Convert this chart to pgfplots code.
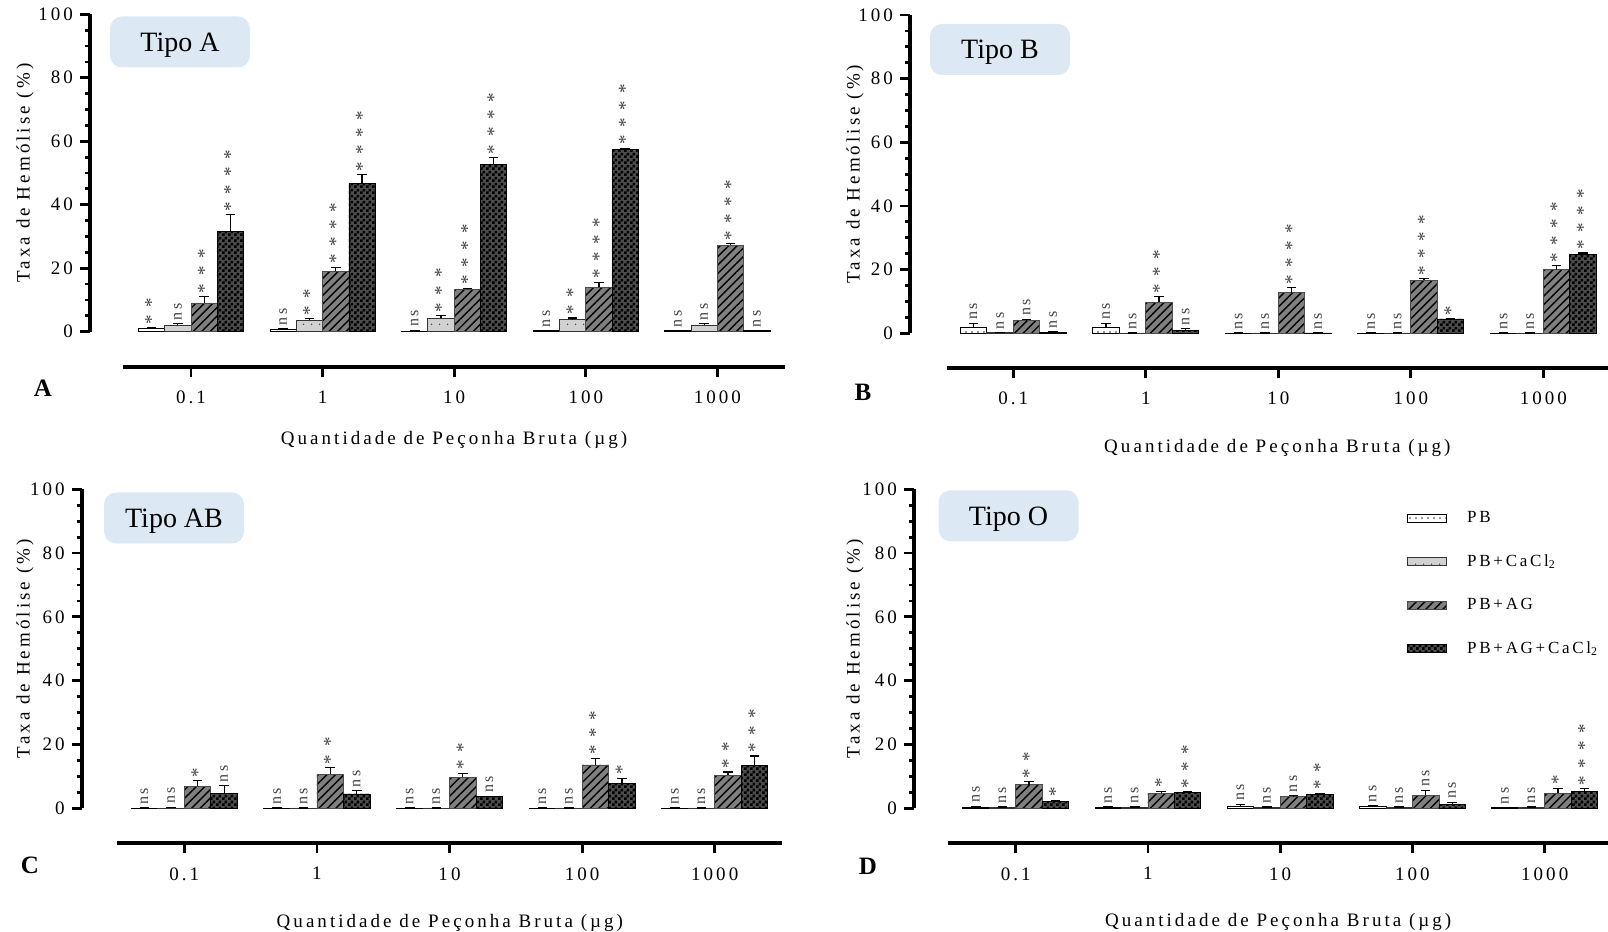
\documentclass[border=0pt]{standalone}
\usepackage{fontspec}
\usepackage{pgfplots}
\pgfplotsset{compat=1.18}
\usepackage{pgfplotstable}
\usetikzlibrary{patterns,patterns.meta}
\setmainfont{Liberation Serif}
\newfontfamily\ps[LetterSpace=16]{Liberation Serif}
\newfontfamily\pa[LetterSpace=40]{Liberation Serif}
\newcommand\pfont{\ps\fontsize{9.5}{11}\selectfont}
\newcommand\sfont{\ps\fontsize{8}{9}\selectfont}
\newcommand\afont{\pa\fontsize{9.5}{11}\selectfont}
\newcommand\lfont{\ps\fontsize{8.5}{10}\selectfont}
\definecolor{tipo}{RGB}{220,232,244}
\def\nsstr{ns}
\newcommand\siglab{\edef\sgtmp{\pgfplotspointmeta}%
  \ifx\sgtmp\nsstr{\sfont ns}\else{\afont\pgfplotspointmeta}\fi}

\pgfdeclarepatternformonly{chk}{\pgfpointorigin}{\pgfqpoint{3pt}{3pt}}{\pgfqpoint{3pt}{3pt}}{%
  \pgfpathrectangle{\pgfpointorigin}{\pgfqpoint{1.5pt}{1.5pt}}%
  \pgfpathrectangle{\pgfqpoint{1.5pt}{1.5pt}}{\pgfqpoint{1.5pt}{1.5pt}}%
  \pgfusepath{fill}}

% g = dose group (0.1,1,10,100,1000 ug), value, error (SEM, up), significance
\pgfplotstableread[col sep=comma]{
g,pb,epb,lpb,ca,eca,lca,ag,eag,lag,agc,eagc,lagc
0,1.0,0.3,**,2.0,0.5,ns,9.0,2.1,***,31.6,5.3,****
1,0.6,0.3,ns,3.6,0.5,**,19.0,1.3,****,46.7,2.7,****
2,0.2,0.3,ns,4.2,0.9,***,13.3,0.4,****,52.6,2.3,****
3,0.4,0.0,ns,3.8,0.5,**,14.0,1.6,****,57.5,0.3,****
4,0.4,0.0,ns,2.0,0.6,ns,27.3,0.4,****,0.4,0.0,ns
}\tabA
\pgfplotstableread[col sep=comma]{
g,pb,epb,lpb,ca,eca,lca,ag,eag,lag,agc,eagc,lagc
0,1.7,1.5,ns,0.2,0.0,ns,3.9,0.5,ns,0.3,0.2,ns
1,1.7,1.5,ns,0.1,0.0,ns,9.7,1.8,***,0.8,0.7,ns
2,0.1,0.0,ns,0.1,0.0,ns,12.8,1.5,****,0.1,0.0,ns
3,0.1,0.0,ns,0.1,0.0,ns,16.6,0.5,****,4.5,0.1,*
4,0.1,0.0,ns,0.1,0.0,ns,20.0,1.2,****,24.7,0.5,****
}\tabB
\pgfplotstableread[col sep=comma]{
g,pb,epb,lpb,ca,eca,lca,ag,eag,lag,agc,eagc,lagc
0,0.1,0.0,ns,0.1,0.2,ns,6.9,1.8,*,4.7,2.4,ns
1,0.1,0.0,ns,0.1,0.0,ns,10.7,2.1,**,4.5,1.1,ns
2,0.1,0.0,ns,0.1,0.0,ns,9.7,1.3,**,3.6,0.2,ns
3,0.1,0.0,ns,0.1,0.0,ns,13.6,2.1,***,7.9,1.5,*
4,0.1,0.0,ns,0.1,0.0,ns,10.3,1.1,**,13.5,2.9,***
}\tabC
\pgfplotstableread[col sep=comma]{
g,pb,epb,lpb,ca,eca,lca,ag,eag,lag,agc,eagc,lagc
0,0.4,0.2,ns,0.4,0.0,ns,7.4,1.0,**,2.1,0.4,*
1,0.4,0.0,ns,0.4,0.0,ns,4.7,0.6,*,5.0,0.2,***
2,0.6,0.7,ns,0.4,0.0,ns,3.8,0.1,ns,4.2,0.5,**
3,0.5,0.4,ns,0.4,0.0,ns,4.1,1.6,ns,1.3,0.6,ns
4,0.2,0.0,ns,0.4,0.0,ns,4.7,1.6,*,5.4,0.8,****
}\tabD

\pgfplotsset{
  arealeg/.style={legend image code/.code={\draw[##1,line width=0.4pt] (0pt,-2pt) rectangle (19.5pt,2pt);}},
  pbbar/.style={draw=black, line width=0.4pt, fill=white, arealeg,
    postaction={pattern={Dots[distance=3pt,radius=0.45pt]}, pattern color=black!80}},
  cabar/.style={draw=black!80, line width=0.4pt, fill=black!18, arealeg,
    postaction={pattern={Dots[distance=4pt,radius=0.45pt]}, pattern color=black!70}},
  agbar/.style={draw=black!70, line width=0.4pt, fill=black!50, arealeg,
    postaction={pattern={Lines[angle=45,distance=3pt,line width=0.7pt]}, pattern color=black}},
  agcbar/.style={draw=black, line width=0.4pt, fill=black!70, arealeg,
    postaction={pattern=chk, pattern color=black}},
  sig/.style={visualization depends on={\thisrow{#1}\as\sgerr},
    nodes near coords={\siglab},
    point meta=explicit symbolic,
    every node near coord/.append style={shift={(axis direction cs:0,\sgerr)},
      rotate=90, anchor=west, font=\sfont, inner sep=1.5pt, text=black!75}},
  mainax/.style={scale only axis, anchor=south west, ybar=0pt, bar width=0.2,
    ymin=0, ymax=100, axis y line*=left, axis x line=none, clip=false,
    ytick={0,20,...,100}, yticklabels={0,20,40,60,80,100}, minor y tick num=3,
    tick align=outside, major tick length=5pt, minor tick length=2.5pt,
    every tick/.append style={black, line width=1.4pt},
    y axis line style={line width=2pt},
    yticklabel style={font=\pfont},
    ylabel={Taxa de Hemólise (\%)}, ylabel style={font=\pfont, anchor=center},
    error bars/error bar style={line width=0.6pt, black},
    error bars/error mark options={rotate=90, mark size=2.4pt, line width=0.6pt, black}},
  xax/.style={scale only axis, anchor=south west, height=5pt, ymin=0, ymax=1,
    axis x line*=bottom, axis y line=none,
    xtick={0,1,2,3,4}, xticklabels={0.1,1,10,100,1000},
    tick align=outside, major tick length=5pt,
    every tick/.append style={black, line width=1.4pt},
    x axis line style={line width=2pt},
    xticklabel style={font=\pfont, yshift=-3.5pt},
    xlabel={Quantidade de Peçonha Bruta (µg)}, xlabel style={font=\pfont, anchor=center}},
}

\newcommand\bars[1]{%
  \addplot[pbbar, sig=epb, error bars/.cd, y dir=plus, y explicit] table[x=g,y=pb,y error=epb,meta=lpb]{#1};
  \addplot[cabar, sig=eca, error bars/.cd, y dir=plus, y explicit] table[x=g,y=ca,y error=eca,meta=lca]{#1};
  \addplot[agbar, sig=eag, error bars/.cd, y dir=plus, y explicit] table[x=g,y=ag,y error=eag,meta=lag]{#1};
  \addplot[agcbar, sig=eagc, error bars/.cd, y dir=plus, y explicit] table[x=g,y=agc,y error=eagc,meta=lagc]{#1};
}

\begin{document}
\begin{tikzpicture}
\useasboundingbox (0,0) rectangle (804pt,466pt);

% ---- A
\begin{axis}[mainax, at={(45pt,300.15pt)}, width=347.5pt, height=158.7pt,
  xmin=-0.7675, xmax=4.5137,
  ylabel style={at={(axis description cs:0,0.5)}, yshift=32.5pt}]
\bars{\tabA}
\end{axis}
\begin{axis}[xax, at={(61.5pt,282.65pt)}, width=331pt, xmin=-0.5167, xmax=4.5137,
  xlabel style={at={(axis description cs:0.5,0)}, yshift=-36.65pt}]
\end{axis}

% ---- B
\begin{axis}[mainax, at={(455pt,299.35pt)}, width=349pt, height=159.15pt,
  xmin=-0.7796, xmax=4.488,
  ylabel style={at={(axis description cs:0,0.5)}, yshift=27.5pt}]
\bars{\tabB}
\end{axis}
\begin{axis}[xax, at={(473.35pt,281.85pt)}, width=330.65pt, xmin=-0.5026, xmax=4.488,
  xlabel style={at={(axis description cs:0.5,0)}, yshift=-40pt}]
\end{axis}

% ---- C
\begin{axis}[mainax, at={(40.85pt,61.85pt)}, width=350.35pt, height=159.5pt,
  xmin=-0.7738, xmax=4.5106,
  ylabel style={at={(axis description cs:0,0.5)}, yshift=28.35pt}]
\bars{\tabC}
\end{axis}
\begin{axis}[xax, at={(58.65pt,44.35pt)}, width=332.55pt, xmin=-0.5053, xmax=4.5106,
  xlabel style={at={(axis description cs:0.5,0)}, yshift=-39.85pt}]
\end{axis}

% ---- D
\begin{axis}[mainax, at={(457pt,61.85pt)}, width=347pt, height=159.5pt,
  xmin=-0.769, xmax=4.4787,
  ylabel style={at={(axis description cs:0,0.5)}, yshift=29.5pt},
  legend style={at={(0.7104,0.945)}, anchor=north west, draw=none, fill=none,
    font=\lfont, row sep=10.5pt, inner sep=0pt,
    /tikz/every odd column/.append style={column sep=8pt}},
  legend cell align=left]
\bars{\tabD}
\legend{PB, PB+CaCl\textsubscript{2}, PB+AG, PB+AG+CaCl\textsubscript{2}}
\end{axis}
\begin{axis}[xax, at={(474.15pt,44.35pt)}, width=329.85pt, xmin=-0.5096, xmax=4.4787,
  xlabel style={at={(axis description cs:0.5,0)}, yshift=-39.35pt}]
\end{axis}

% panel tags and titles
\tikzset{tipobox/.style={fill=tipo, rounded corners=6pt, minimum width=70pt, minimum height=25.5pt,
  font=\fontsize{14}{16}\selectfont, inner sep=0pt, text depth=0pt},
  tag/.style={font=\bfseries\fontsize{12.5}{14}\selectfont}}
\node[tipobox] at (90pt,445pt) {Tipo A};
\node[tipobox] at (500pt,441.25pt) {Tipo B};
\node[tipobox] at (87pt,207pt) {Tipo AB};
\node[tipobox] at (504.25pt,208.1pt) {Tipo O};
\node[tag] at (21.5pt,272pt) {A};
\node[tag] at (431.5pt,270pt) {B};
\node[tag] at (15pt,33.5pt) {C};
\node[tag] at (434pt,32.65pt) {D};
\end{tikzpicture}
\end{document}
